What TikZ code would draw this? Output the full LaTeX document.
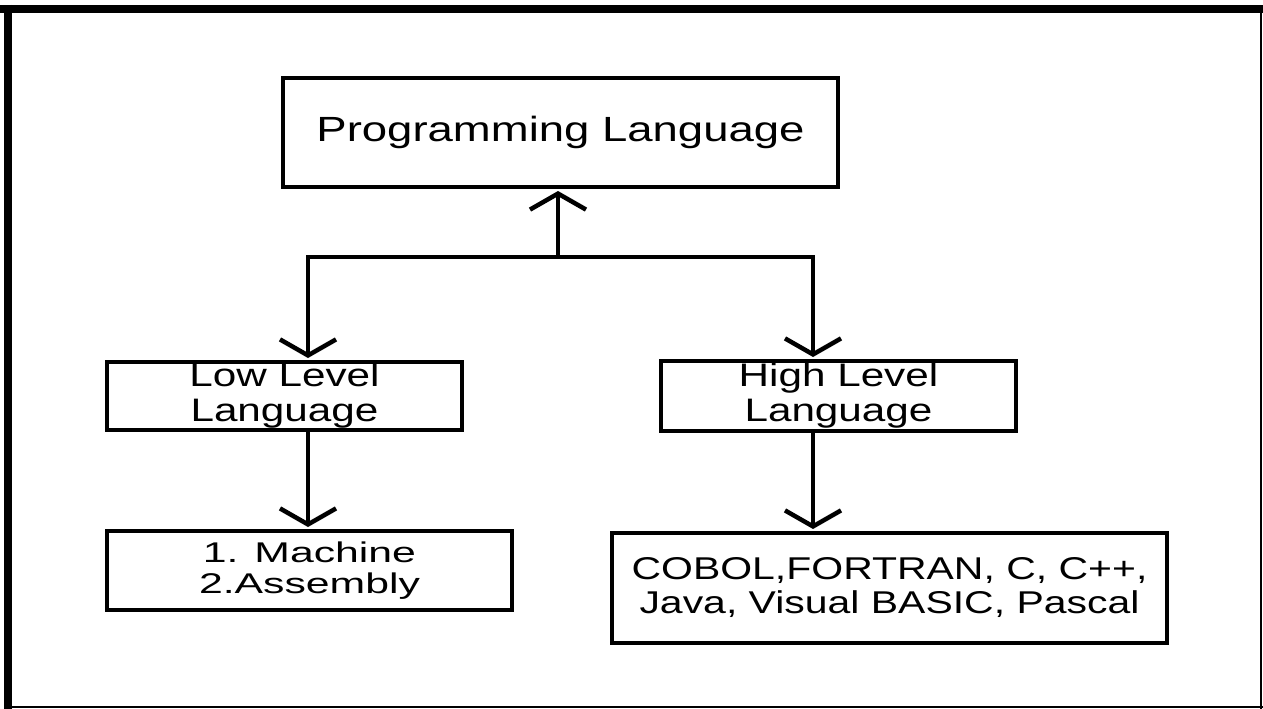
\documentclass[tikz,border=0pt]{standalone}
\usepackage{fontspec}
\setmainfont[FakeStretch=1.3]{Liberation Sans}
\newfontfamily\widefont[FakeStretch=1.5]{Liberation Sans}
\usetikzlibrary{arrows.meta}
\begin{document}
\begin{tikzpicture}[x=1pt,y=-1pt,
  box/.style={draw, line width=4pt, inner sep=0pt, align=center,
    font=\fontsize{32.5}{35}\selectfont},
  link/.style={line width=4.5pt, shorten >=2pt,
    -{Straight Barb[length=16pt,width=56pt]}},
  rail/.style={line width=4.5pt}]
\useasboundingbox (0,0) rectangle (1263,709);
\fill[white] (0,0) rectangle (1263,709);
% outer frame: heavy top and left edges, thin right and bottom edges
\draw[line width=8pt] (0,9) -- (1263,9);
\draw[line width=8pt] (8,5) -- (8,709);
\draw[line width=2pt] (1261,13) -- (1261,709);
\draw[line width=2pt] (8,707) -- (1263,707);

% boxes
\node[box, minimum width=555pt, minimum height=109pt,
  font=\fontsize{35}{38}\selectfont] (pl) at (560.5,132.5) {Programming Language};
\node[box, minimum width=355pt, minimum height=68pt] (low) at (284.5,396) {Low Level\\Language};
\node[box, minimum width=355pt, minimum height=70pt] (high) at (838.5,396) {High Level\\Language};
\node[box, minimum width=405pt, minimum height=79pt,
  font=\widefont\fontsize{28.5}{31}\selectfont] (mach) at (309.5,570.5) {1. Machine\\2.Assembly};
\node[box, minimum width=555pt, minimum height=110pt,
  font=\fontsize{31.5}{34}\selectfont] (cobol) at (889.5,588) {COBOL,FORTRAN, C, C++,\\Java, Visual BASIC, Pascal};

% branching connectors
\coordinate (hub) at (558,257);
\coordinate (jl) at (308,257);
\coordinate (jr) at (813,257);
\draw[rail] (jl) -- (jr);
\draw[link] (hub) -- (hub |- pl.south);
\draw[link] (jr) -- (jl) -- (jl |- low.north);
\draw[link] (jl) -- (jr) -- (jr |- high.north);
\draw[link] (jl |- low.south) -- (jl |- mach.north);
\draw[link] (jr |- high.south) -- (jr |- cobol.north);
\end{tikzpicture}
\end{document}
